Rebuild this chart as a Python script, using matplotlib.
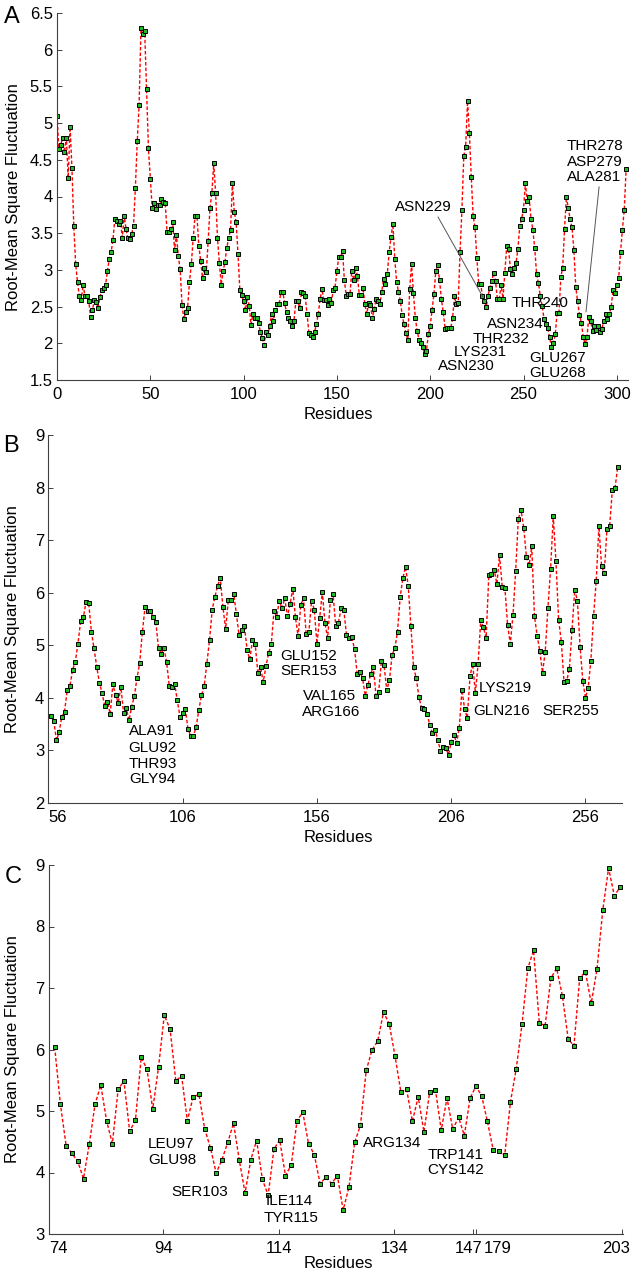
import numpy as np
import matplotlib.pyplot as plt
from matplotlib.transforms import ScaledTranslation

plt.rcParams['font.family'] = ['Liberation Sans', 'DejaVu Sans']

W, H, DPI = 631, 1275, 100

# ---- panel A : RMSF per residue, residues 0..305
a_rmsf = [
    5.10, 4.65, 4.70, 4.80, 4.60, 4.80, 4.25, 4.95, 4.39, 3.60,
    3.08, 2.83, 2.64, 2.59, 2.80, 2.64, 2.64, 2.58, 2.36, 2.45,
    2.59, 2.56, 2.48, 2.63, 2.73, 2.76, 2.79, 2.98, 3.15, 3.24,
    3.41, 3.70, 3.66, 3.63, 3.67, 3.44, 3.74, 3.56, 3.43, 3.42,
    3.49, 3.60, 4.12, 4.75, 5.25, 6.29, 6.22, 6.25, 5.46, 4.66,
    4.24, 3.84, 3.91, 3.83, 3.89, 3.89, 3.97, 3.92, 3.91, 3.51,
    3.51, 3.56, 3.65, 3.27, 3.48, 3.19, 3.01, 2.52, 2.33, 2.43,
    2.48, 2.84, 3.08, 3.44, 3.74, 3.74, 3.33, 3.12, 2.89, 3.02,
    2.97, 3.39, 3.85, 4.05, 4.45, 4.05, 3.43, 3.10, 2.80, 2.98,
    3.11, 3.30, 3.44, 3.54, 4.19, 3.79, 3.65, 3.22, 2.72, 2.66,
    2.57, 2.45, 2.63, 2.51, 2.25, 2.40, 2.34, 2.34, 2.27, 2.16,
    2.07, 1.98, 2.16, 2.11, 2.24, 2.40, 2.31, 2.45, 2.53, 2.53,
    2.70, 2.70, 2.55, 2.42, 2.34, 2.31, 2.24, 2.31, 2.57, 2.58,
    2.48, 2.70, 2.69, 2.64, 2.40, 2.14, 2.11, 2.08, 2.15, 2.26,
    2.40, 2.60, 2.74, 2.59, 2.59, 2.52, 2.61, 2.55, 2.72, 2.76,
    2.98, 3.18, 3.18, 3.26, 2.86, 2.65, 2.67, 2.67, 2.99, 2.86,
    3.03, 2.92, 2.66, 2.66, 2.76, 2.53, 2.40, 2.55, 2.52, 2.34,
    2.47, 2.61, 2.57, 2.53, 2.70, 2.87, 2.81, 2.94, 3.24, 3.45,
    3.63, 3.15, 2.84, 2.70, 2.58, 2.38, 2.26, 2.14, 2.05, 2.74,
    3.08, 2.69, 2.35, 2.17, 2.05, 2.00, 1.95, 1.85, 1.90, 2.12,
    2.24, 2.46, 2.67, 2.98, 3.07, 2.86, 2.60, 2.42, 2.20, 2.21,
    2.21, 2.21, 2.34, 2.64, 2.53, 2.55, 3.25, 3.82, 4.55, 4.68,
    5.30, 4.86, 4.27, 3.74, 3.58, 3.16, 2.81, 2.81, 2.65, 2.57,
    2.49, 2.65, 2.76, 2.85, 2.96, 2.85, 2.60, 2.61, 2.79, 2.61,
    2.96, 3.32, 3.28, 3.01, 2.94, 3.03, 3.09, 3.29, 3.60, 3.70,
    3.82, 4.18, 3.94, 3.99, 3.70, 3.55, 3.30, 2.95, 2.82, 2.64,
    2.51, 2.33, 2.26, 2.21, 2.08, 1.95, 2.00, 2.12, 2.41, 2.41,
    2.90, 3.03, 3.56, 4.00, 3.84, 3.69, 3.58, 3.27, 2.77, 2.57,
    2.39, 2.28, 2.09, 1.99, 2.08, 2.36, 2.30, 2.17, 2.23, 2.18,
    2.24, 2.15, 2.20, 2.30, 2.40, 2.33, 2.40, 2.50, 2.73, 2.68,
    2.80, 2.89, 3.24, 3.55, 3.82, 4.38,
]

# ---- panel B : residues 57..268
b_rmsf = [
    3.66, 3.56, 3.19, 3.35, 3.64, 3.73, 4.15, 4.22, 4.53, 4.69,
    5.02, 5.46, 5.53, 5.82, 5.81, 5.26, 4.94, 4.59, 4.29, 4.09,
    3.84, 3.93, 3.69, 4.26, 4.06, 3.91, 4.20, 3.71, 3.81, 3.57,
    3.83, 4.03, 4.38, 4.66, 5.26, 5.73, 5.65, 5.66, 5.53, 5.44,
    4.95, 4.84, 4.95, 4.69, 4.23, 4.20, 4.27, 3.95, 3.64, 3.71,
    3.79, 3.40, 3.28, 3.28, 3.44, 3.76, 4.05, 4.22, 4.65, 5.10,
    5.68, 5.92, 6.13, 6.28,
    5.72, 5.31, 5.86, 5.86, 5.98, 5.60, 5.19, 5.30, 5.36, 4.91,
    4.73, 5.10, 5.02, 4.48, 4.59, 4.30, 4.60, 4.85, 5.02, 5.65,
    5.54, 5.85, 5.70, 5.90, 5.55, 5.78, 6.08, 5.53, 5.17, 5.77,
    5.90, 5.21, 5.25, 5.85, 5.68, 5.03, 5.51, 6.01, 5.42, 5.14,
    5.86, 5.97, 5.37, 5.43, 5.70, 5.68, 5.20, 5.13, 5.15, 4.93,
    4.45, 4.50, 4.37, 4.04, 4.25, 4.45, 4.59, 4.04, 4.12, 4.70,
    4.62, 4.14, 4.34, 4.82, 4.94, 5.26, 5.92, 6.28, 6.49, 6.13,
    5.37, 4.58, 4.37, 4.01,
    3.80, 3.78, 3.70, 3.49, 3.33, 3.39, 3.20, 2.99, 3.06, 3.04,
    2.92, 3.16, 3.30, 3.14, 3.43, 4.15, 3.79, 3.62, 4.41, 4.65,
    4.09, 4.64, 5.48, 5.34, 5.14, 6.33, 6.36, 6.44, 6.17, 6.71,
    6.11, 6.09, 5.38, 5.03, 5.57, 6.41, 7.41, 7.57, 7.24, 6.68,
    6.52, 6.88, 5.56, 5.18, 4.89, 4.48, 4.87, 5.70, 6.45, 7.46,
    6.60, 5.48, 5.07, 4.31, 4.32, 4.55, 5.29, 6.06, 5.84, 4.97,
    4.32, 4.00, 4.19, 4.71, 5.55, 6.23, 7.26, 6.50, 6.37, 7.21,
    7.26, 7.96, 7.99, 8.39,
]

# ---- panel C : two segments (74..147 and 179..203), plotted by index
c_rmsf = [
    6.04, 5.11, 4.43, 4.31, 4.18, 3.90, 4.46, 5.11, 5.42, 4.84,
    4.47, 5.35, 5.49, 4.67, 4.85, 5.87, 5.68, 5.03, 5.71, 6.56,
    6.33, 5.49, 5.57, 4.84, 5.23, 5.27, 4.71, 4.40, 3.99,
    4.21, 4.49, 4.80, 4.20, 3.67, 4.21, 4.52, 3.89, 3.63, 4.38,
    4.53, 3.95, 4.12, 4.84, 4.98, 4.47, 4.29, 3.82, 3.92, 3.82,
    3.95, 3.39, 3.76, 4.49, 4.77, 5.66, 5.99, 6.14, 6.61, 6.41,
    5.89, 5.31, 5.35, 4.83, 5.23,
    4.66, 5.31, 5.34, 4.69, 5.21, 4.70, 4.90, 4.60, 5.21, 5.40,
    5.25, 4.83, 4.37, 4.35, 4.28, 5.15, 5.69, 6.41, 7.32, 7.61,
    6.43, 6.39, 7.16, 7.32, 6.87, 6.17, 6.06, 7.17, 7.26, 6.75,
    7.31, 8.27, 8.95, 8.50, 8.64,
]
c_tick_pos = [-0.98, 18.85, 38.8, 58.85, 72.5, 73.06, 98.4]
c_tick_lab = ['74', '94', '114', '134', '147', '179', '203']

a_notes = [('ASN229', 181.1, 3.86), ('THR240', 243.8, 2.55), ('ASN234', 230.4, 2.26),
           ('THR232', 222.9, 2.06), ('LYS231', 212.8, 1.88), ('ASN230', 204.2, 1.69),
           ('GLU267', 252.9, 1.80), ('GLU268', 252.9, 1.60),
           ('THR278', 273.3, 4.69), ('ASP279', 273.3, 4.47), ('ALA281', 273.3, 4.27)]
b_notes = [('ALA91', 86.0, 3.37), ('GLU92', 85.6, 3.05), ('THR93', 86.0, 2.74),
           ('GLY94', 86.0, 2.46), ('GLU152', 142.2, 4.80), ('SER153', 142.2, 4.51),
           ('VAL165', 150.8, 4.04), ('ARG166', 150.4, 3.73), ('LYS219', 216.3, 4.19),
           ('GLN216', 214.1, 3.75), ('SER255', 239.8, 3.75)]
c_notes = [('LEU97', 16.2, 4.46), ('GLU98', 16.2, 4.20), ('SER103', 20.3, 3.68),
           ('ILE114', 36.5, 3.54), ('TYR115', 36.3, 3.26), ('ARG134', 53.5, 4.48),
           ('TRP141', 64.6, 4.28), ('CYS142', 64.6, 4.04)]

fig = plt.figure(figsize=(W / DPI, H / DPI), dpi=DPI)


def add_ax(left, top, right, bottom):
    ax = fig.add_axes([left / W, 1 - bottom / H, (right - left) / W, (bottom - top) / H])
    for s in ['top', 'right']:
        ax.spines[s].set_visible(False)
    for s in ['left', 'bottom']:
        ax.spines[s].set_color('#404040')
        ax.spines[s].set_linewidth(0.8)
    ax.tick_params(direction='in', length=3.5, width=0.7, color='#404040',
                   labelsize=12, labelcolor='black')
    ax.tick_params(axis='x', pad=5)
    ax.tick_params(axis='y', pad=3)
    return ax


def draw(ax, x, y):
    ax.plot(x, y, linestyle=(0, (2.5, 1.5)), color='red', lw=1.0,
            marker='s', ms=3.0, mfc='#22bb22', mec='black', mew=0.7)


def shift(label, dx):
    label.set_transform(label.get_transform() + ScaledTranslation(dx / DPI, 0, fig.dpi_scale_trans))


def fig_text(px, py, s, **kw):
    fig.text(px / W, 1 - py / H, s, **kw)


# panel A
ax = add_ax(57, 13, 628, 380)
draw(ax, np.arange(len(a_rmsf)), a_rmsf)
ax.set_xlim(0, 306)
ax.set_ylim(1.5, 6.5)
ax.set_xticks(np.arange(0, 301, 50))
ax.set_yticks(np.arange(1.5, 6.51, 0.5))
ax.set_yticklabels(['%g' % v for v in np.arange(1.5, 6.51, 0.5)])
for t, x, y in a_notes:
    ax.text(x, y, t, fontsize=11, ha='left', va='center')
ax.plot([204.2, 228.3], [3.72, 2.63], color='#555555', lw=0.7)
ax.plot([290.5, 283.5], [4.13, 2.43], color='#555555', lw=0.7)

# panel B
ax = add_ax(48.4, 435, 622, 803)
draw(ax, np.arange(57, 57 + len(b_rmsf)), b_rmsf)
ax.set_xlim(56, 269.6)
ax.set_ylim(2, 9)
ax.set_xticks([56, 106, 156, 206, 256])
ax.set_yticks(range(2, 10))
ax.get_xticklabels()[0].set_ha('left')
for t, x, y in b_notes:
    ax.text(x, y, t, fontsize=11, ha='left', va='center')

# panel C
ax = add_ax(49, 865, 623, 1234)
draw(ax, np.arange(len(c_rmsf)), c_rmsf)
ax.set_xlim(-0.98, 98.5)
ax.set_ylim(3, 9)
ax.set_xticks(c_tick_pos)
ax.set_xticklabels(c_tick_lab)
ax.set_yticks(range(3, 10))
labs = ax.get_xticklabels()
labs[0].set_ha('left')
shift(labs[4], -4)
shift(labs[5], 21)
shift(labs[6], -6)
for t, x, y in c_notes:
    ax.text(x, y, t, fontsize=11, ha='left', va='center')

# labels
for py in [415, 838, 1264]:
    fig_text(338, py, 'Residues', fontsize=12, ha='center', va='center')
for px, py in [(14, 197), (13, 619), (13, 1049)]:
    fig_text(px, py, 'Root-Mean Square Fluctuation', fontsize=12, rotation=90,
             ha='center', va='center')
for px, py, s in [(12, 17, 'A'), (11, 446, 'B'), (13, 877, 'C')]:
    fig_text(px, py, s, fontsize=17, ha='center', va='center')

fig.savefig('out.png', dpi=DPI)
